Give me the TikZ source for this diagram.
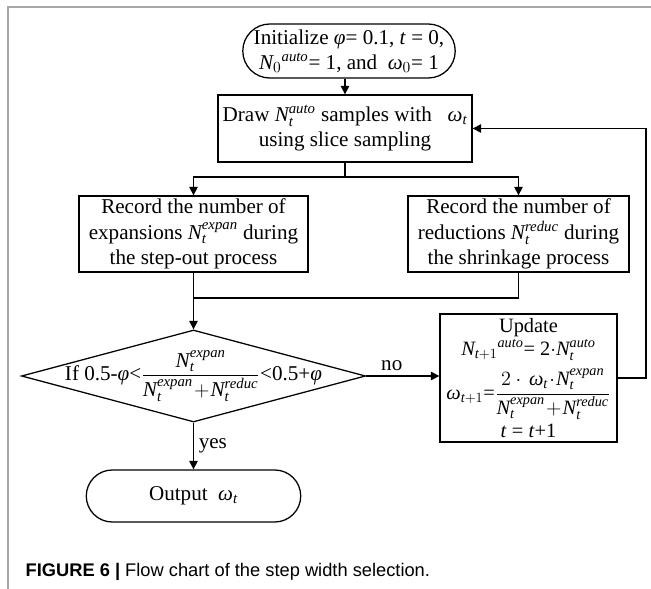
\documentclass[tikz,border=0pt]{standalone}
\usepackage{amsmath}
\usepackage{fontspec}
\setmainfont{Liberation Serif}
\setsansfont{Liberation Sans}
\usetikzlibrary{shapes.geometric,shapes.misc,arrows.meta}
\newcommand{\tv}{\textit{t}}
\newcommand{\wv}{\textit{ω}}
\newcommand{\fv}{\textit{φ}}
\newcommand{\Nv}[2]{\textit{N}_{#1}^{\textit{#2}}}
\newcommand{\Nafter}[2]{\textit{N}_{#1}{}^{\textit{#2}}}

\begin{document}
\begin{tikzpicture}[x=0.025cm,y=-0.025cm,
    >={Triangle[length=6pt,width=6pt]}, line width=0.9pt,
    font=\fontsize{15}{18}\selectfont,
    box/.style={draw,rectangle,align=center,inner sep=2pt},
    term/.style={draw,rounded rectangle,align=center,inner sep=2pt}]
        \useasboundingbox (0,0) rectangle (651,589);
        % frame of the figure
        \draw[gray!70,line width=1.4pt] (651,7) -- (8,7) -- (8,589);
        % start and sampling
        \node[term,minimum width=5.45cm,minimum height=1.35cm] (init) at (349,51)
            {Initialize \fv= 0.1, \tv{} = 0,\\ $\Nafter{0}{auto}$= 1, and \ $\wv_0$= 1};
        \node[box,minimum width=6.35cm,minimum height=1.675cm] (sample) at (345,128.5)
            {Draw $\Nv{\tv}{auto}$ samples with \ \ $\wv_{\tv}$\\ using slice sampling};
        % record blocks
        \node[box,minimum width=5.725cm,minimum height=1.9cm] (expan) at (193.5,234)
            {Record the number of\\ expansions $\Nv{\tv}{expan}$ during\\ the step-out process};
        \node[box,minimum width=5.525cm,minimum height=1.9cm] (reduc) at (518.5,234)
            {Record the number of\\ reductions $\Nv{\tv}{reduc}$ during\\ the shrinkage process};
        % decision
        \node[draw,diamond,minimum width=8.6cm,minimum height=2.3cm,inner sep=0pt] (cond) at (193.5,376) {};
        \node at (cond.center) (condtxt)
            {If 0.5-\fv<$\dfrac{\Nv{\tv}{expan}}{\Nv{\tv}{expan}\!+\!\Nv{\tv}{reduc}}$<0.5+\fv};
        % update and output
        \node[box,minimum width=4.425cm,minimum height=3.2cm,inner sep=1pt,font=\fontsize{14.5}{16}\selectfont] (upd) at (528.5,378)
            {Update\\ $\Nafter{\tv+1}{auto}$= 2$\cdot\Nv{\tv}{auto}$\\[5pt]
             $\wv_{\tv+1}$=$\dfrac{2\cdot\,\wv_{\tv}\!\cdot\!\Nv{\tv}{expan}}{\Nv{\tv}{expan}\!+\!\Nv{\tv}{reduc}}$\\[2pt]
             \tv{} = \tv+1};
        \node[term,minimum width=5.5cm,minimum height=1.3cm] (out) at (193.5,496) {Output \ $\wv_{\tv}$};
        % points where lines split, join and turn back
        \coordinate (split) at (345,177);
        \coordinate (join) at (193.5,298);
        \coordinate (back) at (646,378);
        % draw arrows
        \draw[->] (sample.north |- init.south) -- (sample.north);
        \draw (sample.south) -- (split);
        \draw[->] (split) -| (expan.north);
        \draw[->] (split) -| (reduc.north);
        \draw (reduc.south) |- (join);
        \draw[->] (expan.south) -- (cond.north);
        \draw[->] (cond.east) -- (upd.west |- cond.east) node[pos=0.35,above] {no};
        \draw[->] (upd.east) -- (back) |- (sample.east);
        \draw[->] (cond.south) -- (out.north) node[midway,right] {yes};
        % caption
        \node[anchor=base west,inner sep=0pt,font=\sffamily\fontsize{13}{15}\selectfont] (cap) at (25,576)
            {\textbf{FIGURE 6 |} Flow chart of the step width selection.};
    \end{tikzpicture}
\end{document}
